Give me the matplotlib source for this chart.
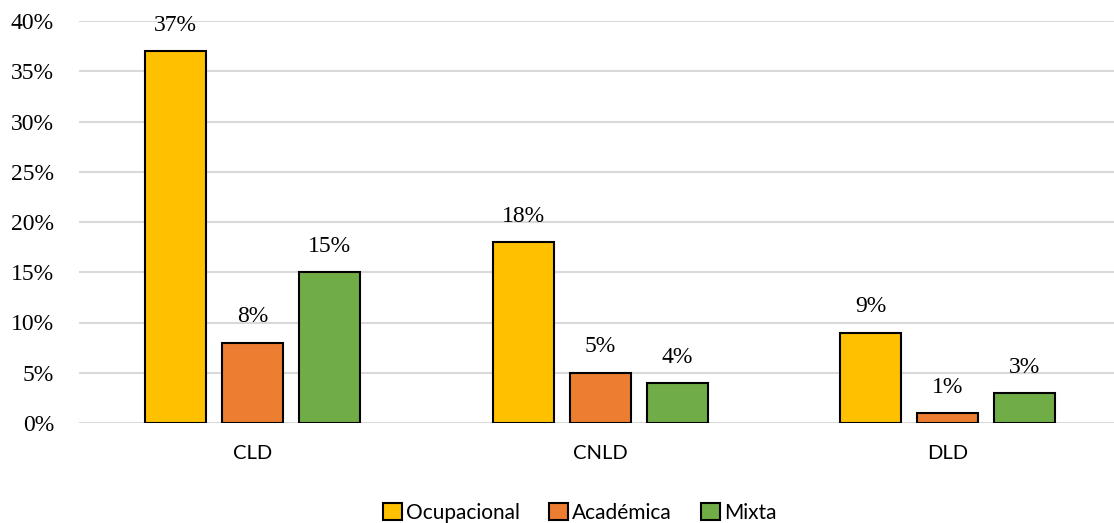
import numpy as np
import matplotlib.pyplot as plt
from matplotlib.ticker import FuncFormatter

# Datos
categorias = ['CLD', 'CNLD', 'DLD']
ocupacional = [37, 18, 9]
academica = [8, 5, 1]
mixta = [15, 4, 3]

series = [('Ocupacional', ocupacional, '#FFC000'),
          ('Académica', academica, '#ED7D31'),
          ('Mixta', mixta, '#70AD47')]

fig = plt.figure(figsize=(11.14, 5.23), dpi=100)
ax = fig.add_axes([79/1114, 1 - 423/523, 1 - 79/1114, (423 - 21)/523])

x = np.arange(len(categorias))
ancho = 0.176
paso = 0.2216

for i, (nombre, vals, color) in enumerate(series):
    pos = x + (i - 1) * paso
    barras = ax.bar(pos, vals, ancho, color=color, edgecolor='black',
                    linewidth=1.5, label=nombre, zorder=3)
    for b, v in zip(barras, vals):
        ax.annotate(f'{v}%', (b.get_x() + b.get_width() / 2, v),
                    xytext=(0, 11), textcoords='offset points',
                    ha='center', va='bottom', fontsize=17,
                    family='Liberation Serif')

ax.set_ylim(0, 40)
ax.set_yticks(np.arange(0, 41, 5))
ax.yaxis.set_major_formatter(FuncFormatter(lambda v, p: f'{v:.0f}%'))
ax.set_xlim(-0.5, 2.478)
ax.set_xticks(x)
ax.set_xticklabels(categorias, family='Lato', fontsize=14.5)
for t in ax.get_yticklabels():
    t.set_family('Liberation Serif')
    t.set_fontsize(17)
ax.tick_params(axis='both', length=0)
ax.tick_params(axis='x', pad=16)
ax.tick_params(axis='y', pad=18)
ax.grid(axis='y', color='#d9d9d9', linewidth=1.5, zorder=0)
for s in ax.spines.values():
    s.set_visible(False)

fig.legend(loc='lower center', bbox_to_anchor=(580/1114, -0.035), ncol=3,
           frameon=False, prop={'family': 'Lato', 'size': 15},
           handlelength=0.9, handleheight=0.9, handletextpad=0.2,
           columnspacing=1.4)

plt.savefig('out.png', dpi=100)
